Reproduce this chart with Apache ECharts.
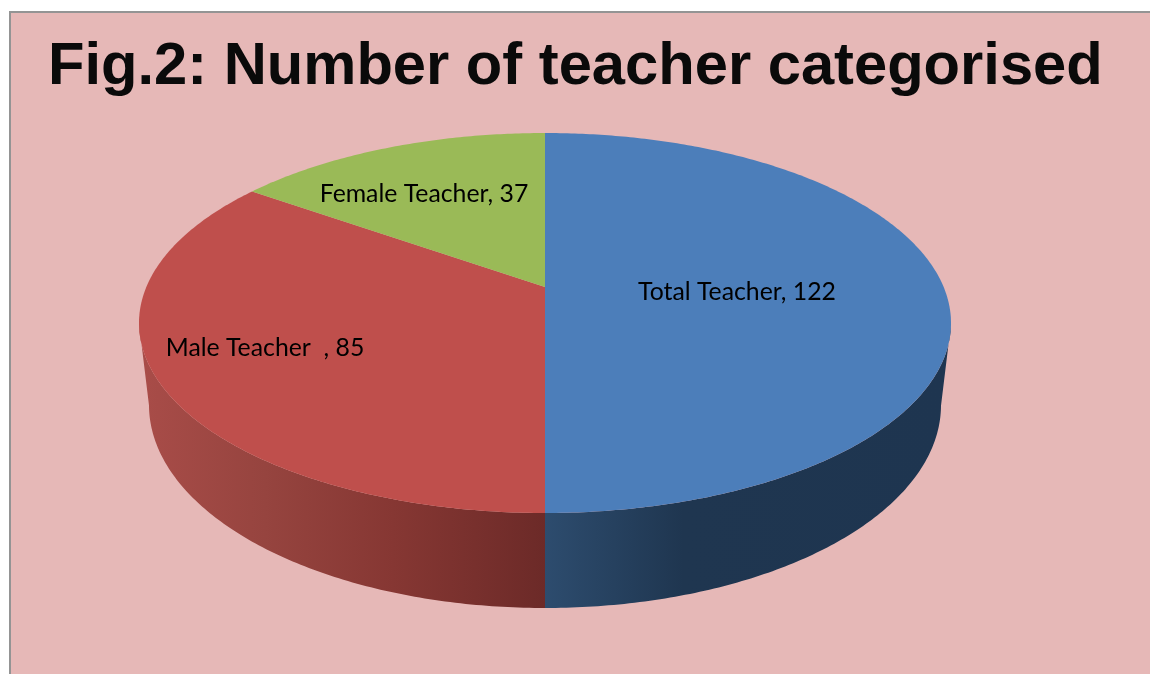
<!DOCTYPE html>
<html>
<head>
<meta charset="utf-8">
<style>html,body{margin:0;padding:0;background:#fff}#c{width:1150px;height:674px}</style>
<script src="https://cdn.jsdelivr.net/npm/echarts@6/dist/echarts.min.js"></script>
</head>
<body>
<div id="c"></div>
<script>
// Data
const categories = ['Total Teacher', 'Male Teacher  ', 'Female Teacher'];
const values = [122, 85, 37];
const titleText = 'Fig.2: Number of teacher categorised';

// Styles and layout, kept apart from the data
const topColors = ['#4c7eba', '#bf4f4c', '#9aba57'];
const wallStops = [
  [[0, '#2d4c6e'], [0.34, '#1f3650'], [1, '#1e3550']],
  [[0, '#a84c48'], [0.3, '#96443f'], [0.62, '#863733'], [1, '#6c2a28']],
  [[0, '#6f8a3d'], [1, '#5a7030']]
];
const wallSpans = [[545, 951], [145, 545], [145, 545]];
const labelCentres = [[737, 292], [265, 348], [424, 194]];
const topFace = { cx: 545, cy: 323, rx: 406, ry: 190 };
const baseFace = { cx: 545, cy: 405, rx: 396, ry: 203 };
const tilt = 0.189;   // how far the perspective moves the pie's centre towards the viewer

const sum = values.reduce((a, b) => a + b, 0);
const startAngles = [];
values.reduce((acc, v, i) => { startAngles[i] = acc; return acc + v / sum * Math.PI * 2; }, 0);

// Angle clockwise from 12 o'clock -> unit-circle point under perspective
function project(theta) {
  const u = Math.sin(theta), v = Math.cos(theta);
  const d = 1 + tilt * v;
  return [u * Math.sqrt(1 - tilt * tilt) / d, (v + tilt) / d];
}
const onFace = (f, p) => [f.cx + f.rx * p[0], f.cy - f.ry * p[1]];

function arcSamples(i) {
  const a0 = startAngles[i], a1 = a0 + values[i] / sum * Math.PI * 2;
  const n = Math.max(8, Math.ceil((a1 - a0) * 90));
  const out = [];
  for (let k = 0; k <= n; k++) out.push(project(a0 + (a1 - a0) * k / n));
  return out;
}

function renderWall(params) {
  const i = params.dataIndex;
  const front = arcSamples(i).filter(p => p[1] <= 0.002);
  if (front.length < 2) return { type: 'group', children: [] };
  const pts = front.map(p => onFace(topFace, p)).concat(front.slice().reverse().map(p => onFace(baseFace, p)));
  return {
    type: 'polygon', silent: true,
    shape: { points: pts },
    style: {
      fill: {
        type: 'linear', global: true,
        x: wallSpans[i][0], y: 0, x2: wallSpans[i][1], y2: 0,
        colorStops: wallStops[i].map(s => ({ offset: s[0], color: s[1] }))
      }
    }
  };
}
function renderTop(params) {
  const i = params.dataIndex;
  const apex = onFace(topFace, [0, tilt]);
  const pts = [apex].concat(arcSamples(i).map(p => onFace(topFace, p)));
  return { type: 'polygon', silent: true, shape: { points: pts }, style: { fill: topColors[i] } };
}
function renderLabel(params) {
  const i = params.dataIndex;
  return {
    type: 'text', silent: true,
    style: {
      x: labelCentres[i][0], y: labelCentres[i][1],
      text: categories[i] + ', ' + values[i],
      fill: '#000', font: '400 24.8px Lato',
      textAlign: 'center', textVerticalAlign: 'middle'
    }
  };
}
const seriesData = categories.map((n, i) => ({ name: n, value: values[i] }));

const chart = echarts.init(document.getElementById('c'), null, { renderer: 'canvas' });
chart.setOption({
  animation: false,
  backgroundColor: '#ffffff',
  graphic: [{
    type: 'rect', z: -10, silent: true,
    shape: { x: 10, y: 12, width: 1160, height: 680 },
    style: { fill: '#e6b8b7', stroke: '#949494', lineWidth: 2 }
  }],
  title: {
    text: titleText, left: 48, top: 38, padding: 0,
    textStyle: { fontFamily: 'Liberation Sans', fontWeight: 'bold', fontSize: 59.7, color: '#0a0a0a' }
  },
  series: [
    { type: 'custom', coordinateSystem: 'none', z: 1, data: seriesData, renderItem: renderWall },
    { type: 'custom', coordinateSystem: 'none', z: 2, data: seriesData, renderItem: renderTop },
    { type: 'custom', coordinateSystem: 'none', z: 3, data: seriesData, renderItem: renderLabel }
  ]
});
</script>
</body>
</html>
